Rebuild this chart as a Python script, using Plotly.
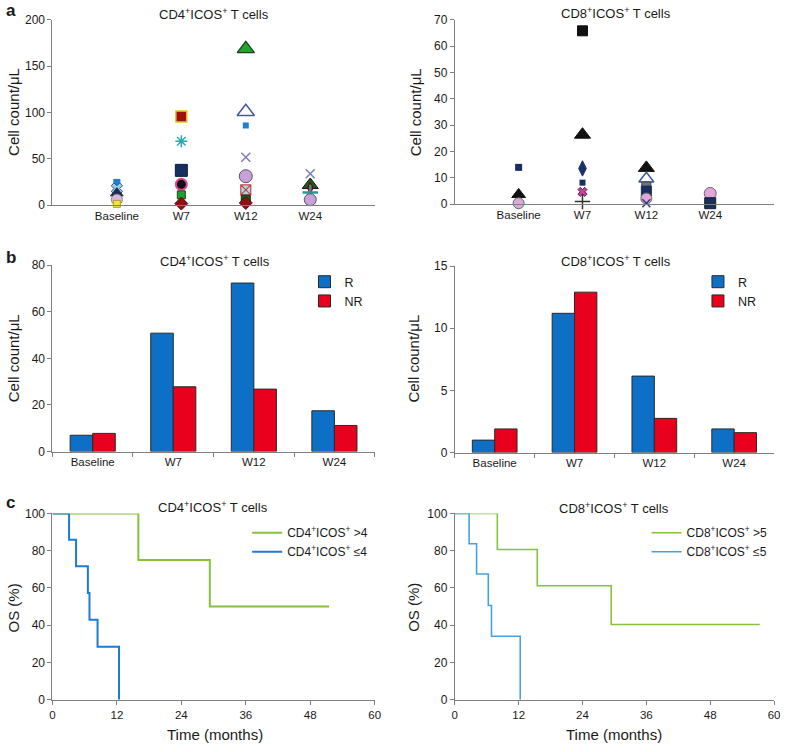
import plotly.graph_objects as go

W, H = 787, 752
def px(x): return min(1.0, max(0.0, x / W))   # page pixel -> paper fraction
def py(y): return 1 - y / H
def pyd(y): return min(1.0, max(0.0, py(y)))

FONT = "Liberation Sans, Arial, Helvetica, sans-serif"
TXT = "#1a1a1a"
AX = "#7f7f7f"

# ---------------- DATA ----------------
timepoints = ["Baseline", "W7", "W12", "W24"]

# Panel a: individual patients, CD4+ICOS+
cd4_pt_time = ["Baseline", "Baseline", "Baseline", "Baseline", "Baseline",
               "W7", "W7", "W7", "W7", "W7", "W7",
               "W12", "W12", "W12", "W12", "W12", "W12", "W12", "W12",
               "W24", "W24", "W24", "W24", "W24"]
cd4_pt_value = [24.6, 18, 13, 6, 1.5,
                95.6, 69, 37.6, 22.5, 11.2, 1.8,
                168.7, 100.9, 86, 51.7, 31.3, 16.5, 6, 2.5,
                34, 21.8, 18.5, 13.7, 6]

# Panel a: individual patients, CD8+ICOS+
cd8_pt_time = ["Baseline", "Baseline", "Baseline",
               "W7", "W7", "W7", "W7", "W7", "W7",
               "W12", "W12", "W12", "W12", "W12", "W12",
               "W24", "W24"]
cd8_pt_value = [14, 3.7, 0.4,
                65.8, 26.4, 13.6, 8.2, 4.7, 1.0,
                13.8, 9.7, 6.8, 5.0, 2.2, 0.4,
                4.1, 0.4]

# Panel b: mean counts, responders (R) vs non-responders (NR)
cd4_R = [7.0, 50.8, 72.3, 17.5]
cd4_NR = [7.8, 27.8, 26.8, 11.2]
cd8_R = [1.0, 11.2, 6.15, 1.9]
cd8_NR = [1.9, 12.9, 2.75, 1.6]

# Panel c: Kaplan-Meier overall survival
cd4_hi_t = [0, 16.0, 29.3, 51.5]
cd4_hi_os = [100, 75, 50, 50]
cd4_lo_t = [0, 3.1, 4.4, 6.6, 6.9, 8.4, 12.4]
cd4_lo_os = [100, 85.9, 71.6, 57.3, 42.9, 28.5, 0]
cd8_hi_t = [0, 8.0, 15.5, 29.4, 57.3]
cd8_hi_os = [100, 80.6, 61.2, 40.4, 40.4]
cd8_lo_t = [0, 2.7, 4.1, 6.3, 6.9, 12.3]
cd8_lo_os = [100, 83.7, 67.5, 50.6, 34.1, 0]

# ---------------- STYLES (marker per point) ----------------
# (symbol, size, fill, line colour, line width)
cd4_styles = [
    ("square", 7, "#1f7fd4", "#1f7fd4", 0),
    ("x", 10, "#8fd0ee", "#3d4f80", 1),
    ("triangle-up", 11, "#1e2b55", "#1e2b55", 1),
    ("circle", 11, "#e0b4dc", "#8a8a8a", 1),
    ("square", 7, "#f2e23a", "#b0a020", 1),
    ("square", 11, "#a30f0f", "#d8d020", 1.5),
    ("asterisk-open", 10, "#2aa8b0", "#2aa8b0", 1.5),
    ("square", 12, "#15305f", "#0e1e3e", 1),
    ("circle", 11, "#111111", "#e0449a", 2),
    ("square", 8, "#20a030", "#1a4a1a", 1),
    ("diamond", 10, "#8e1010", "#5a0a0a", 1),
    ("triangle-up", 15, "#22a62a", "#1f3f1f", 1.2),
    ("triangle-up", 15, "#ffffff", "#4a5a90", 1.5),
    ("square", 6, "#1f7fd4", "#1f7fd4", 0),
    ("x-thin-open", 9, "#7d7dbb", "#7d7dbb", 1.5),
    ("circle", 13, "#c6a2d8", "#555566", 1),
    ("square-x", 10, "#9fe0f0", "#d04040", 1.2),
    ("square", 9, "#1d5a22", "#103010", 1),
    ("diamond", 10, "#8e1010", "#5a0a0a", 1),
    ("x-thin-open", 9, "#7d7dbb", "#7d7dbb", 1.5),
    ("triangle-up", 14, "#1a5e1a", "#111111", 1),
    ("diamond-tall", 8, "#c00000", "#600000", 1),
    ("cross-thin-open", 11, "#1e9a9a", "#1e9a9a", 2.5),
    ("circle", 12, "#c6a2d8", "#555566", 1),
]
cd8_styles = [
    ("square", 7, "#1a2f5e", "#1a2f5e", 0),
    ("triangle-up", 12, "#111111", "#111111", 1),
    ("circle", 11, "#e4a6d8", "#666666", 1),
    ("square", 10, "#111111", "#111111", 1),
    ("triangle-up", 14, "#111111", "#111111", 1),
    ("diamond-tall", 11, "#1a2f70", "#1a2f70", 1),
    ("square", 6, "#1a2f5e", "#1a2f5e", 0),
    ("x", 8, "#d0409e", "#4a2040", 1),
    ("cross-thin-open", 11, "#333333", "#333333", 1.5),
    ("triangle-up", 14, "#111111", "#111111", 1),
    ("triangle-up", 13, "#ffffff", "#3a5a90", 1.5),
    ("square", 9, "#707080", "#404050", 1),
    ("square", 10, "#1a2f5e", "#1a2f5e", 1),
    ("circle", 11, "#e4a6d8", "#666666", 1),
    ("x-thin-open", 8, "#2a3f7e", "#2a3f7e", 1.5),
    ("circle", 12, "#e4a6d8", "#666666", 1),
    ("square", 11, "#1a2f5e", "#0e1e3e", 1),
]

fig = go.Figure()

def add_points(times, values, styles, xa, ya):
    for t, v, (sym, size, fill, lc, lw) in zip(times, values, styles):
        fig.add_trace(go.Scatter(
            x=[t], y=[v], mode="markers", xaxis=xa, yaxis=ya, showlegend=False,
            cliponaxis=False, hoverinfo="skip",
            marker=dict(symbol=sym, size=size, color=fill,
                        line=dict(color=lc, width=lw))))

add_points(cd4_pt_time, cd4_pt_value, cd4_styles, "x", "y")
add_points(cd8_pt_time, cd8_pt_value, cd8_styles, "x2", "y2")

BLUE, RED = "#0d6fc6", "#e8001d"
for xa, ya, r, nr, lg in [("x3", "y3", cd4_R, cd4_NR, "legend"),
                           ("x4", "y4", cd8_R, cd8_NR, "legend2")]:
    fig.add_trace(go.Bar(x=timepoints, y=r, name="R", xaxis=xa, yaxis=ya, legend=lg,
                         marker=dict(color=BLUE, line=dict(color="#2a2a2a", width=1))))
    fig.add_trace(go.Bar(x=timepoints, y=nr, name="NR", xaxis=xa, yaxis=ya, legend=lg,
                         marker=dict(color=RED, line=dict(color="#2a2a2a", width=1))))

GREEN = "#86c23a"
fig.add_trace(go.Scatter(x=cd4_hi_t, y=cd4_hi_os, mode="lines", line_shape="hv",
                         name="CD4<sup>+</sup>ICOS<sup>+</sup> >4", xaxis="x5", yaxis="y5",
                         legend="legend3", cliponaxis=False,
                         line=dict(color=GREEN, width=2)))
fig.add_trace(go.Scatter(x=cd4_lo_t, y=cd4_lo_os, mode="lines", line_shape="hv",
                         name="CD4<sup>+</sup>ICOS<sup>+</sup> ≤4", xaxis="x5", yaxis="y5",
                         legend="legend3", cliponaxis=False,
                         line=dict(color="#1f7ad2", width=2)))
fig.add_trace(go.Scatter(x=cd8_hi_t, y=cd8_hi_os, mode="lines", line_shape="hv",
                         name="CD8<sup>+</sup>ICOS<sup>+</sup> >5", xaxis="x6", yaxis="y6",
                         legend="legend4", cliponaxis=False,
                         line=dict(color=GREEN, width=1.6)))
fig.add_trace(go.Scatter(x=cd8_lo_t, y=cd8_lo_os, mode="lines", line_shape="hv",
                         name="CD8<sup>+</sup>ICOS<sup>+</sup> ≤5", xaxis="x6", yaxis="y6",
                         legend="legend4", cliponaxis=False,
                         line=dict(color="#48a0e0", width=1.6)))

# ---------------- AXES ----------------
XL = [px(50), px(376)]
XR = [px(457), px(780)]
YA = [pyd(202), pyd(13)]
YB = [pyd(453), pyd(263)]
YC = [pyd(706), pyd(516)]

ytickf = dict(family=FONT, size=12, color=TXT)
xtickf = dict(family=FONT, size=11.5, color=TXT)

def cat_x(domain, anchor, ticks=""):
    d = dict(domain=domain, anchor=anchor, type="category", categoryarray=timepoints,
             showline=True, linecolor=AX, linewidth=1, showgrid=False, zeroline=False,
             tickfont=xtickf, fixedrange=True)
    if ticks:
        d.update(ticks="outside", tickson="boundaries", ticklen=4, tickcolor=AX)
    else:
        d.update(ticks="")
    return d

def num_y(domain, anchor, rng, dtick):
    return dict(domain=domain, anchor=anchor, range=rng, dtick=dtick, tick0=0,
                showline=True, linecolor=AX, linewidth=1, showgrid=False, zeroline=False,
                ticks="outside", ticklen=4, tickcolor=AX, tickfont=ytickf)

def time_x(domain, anchor):
    return dict(domain=domain, anchor=anchor, range=[0, 60], dtick=12, showline=True,
                linecolor=AX, showgrid=False, zeroline=False, ticks="outside",
                ticklen=4, tickcolor=AX, tickfont=xtickf)

def leg(x, y, size):
    return dict(x=px(x), y=py(y), xanchor="left", yanchor="top",
                bgcolor="rgba(0,0,0,0)", font=dict(size=size, family=FONT, color=TXT),
                itemwidth=30, tracegroupgap=0)

layout = dict(
    width=W, height=H, margin=dict(l=0, r=0, t=0, b=0),
    paper_bgcolor="white", plot_bgcolor="white",
    font=dict(family=FONT, color=TXT),
    barmode="group", bargap=0.44, bargroupgap=0,
    xaxis=dict(cat_x(XL, "y"), range=[-1, 4]),
    yaxis=num_y(YA, "x", [0, 200], 50),
    xaxis2=dict(cat_x(XR, "y2"), range=[-1, 4]),
    yaxis2=num_y([pyd(201), pyd(13)], "x2", [0, 70], 10),
    xaxis3=cat_x(XL, "y3", ticks=True),
    yaxis3=num_y(YB, "x3", [0, 80], 20),
    xaxis4=cat_x(XR, "y4", ticks=True),
    yaxis4=num_y([pyd(454), pyd(264)], "x4", [0, 15], 5),
    xaxis5=time_x(XL, "y5"),
    yaxis5=num_y(YC, "x5", [0, 100], 20),
    xaxis6=time_x(XR, "y6"),
    yaxis6=num_y([pyd(706), pyd(516)], "x6", [0, 100], 20),
    legend=leg(305, 265, 12.5),
    legend2=leg(703, 265, 12.5),
    legend3=leg(247, 521, 12),
    legend4=leg(651, 521, 12),
)

ann = []
def text(x, y, s, size, angle=0, xanchor="center", bold=False):
    ann.append(dict(x=x / W, y=py(y), xref="paper", yref="paper",
                    text=("<b>%s</b>" % s) if bold else s,
                    showarrow=False, textangle=angle, xanchor=xanchor, yanchor="middle",
                    font=dict(family=FONT, size=size, color=TXT)))

T4 = "CD4<sup>+</sup>ICOS<sup>+</sup> T cells"
T8 = "CD8<sup>+</sup>ICOS<sup>+</sup> T cells"
text(213, 7, T4, 13); text(620, 6, T8, 13)
text(214, 259, T4, 13); text(620, 259, T8, 13)
text(212, 509, T4, 13); text(618, 510, T8, 13)
text(1, 4, "a", 17, bold=True, xanchor="left")
text(1, 255, "b", 17, bold=True, xanchor="left")
text(1, 505, "c", 17, bold=True, xanchor="left")
for x, y in [(10, 107), (417, 107), (10, 358), (415, 358)]:
    text(x, y, "Cell count/μL", 15, angle=-90)
text(11, 612, "OS (%)", 15, angle=-90)
text(415, 612, "OS (%)", 15, angle=-90)
text(214, 741, "Time (months)", 15)
text(618, 741, "Time (months)", 15)
layout["annotations"] = ann

fig.update_layout(**layout)
# remove the default 8px page margin so the figure fills the window exactly
fig.write_html("out.html", config={"displayModeBar": False},
               post_script="document.body.style.margin='0px';")
